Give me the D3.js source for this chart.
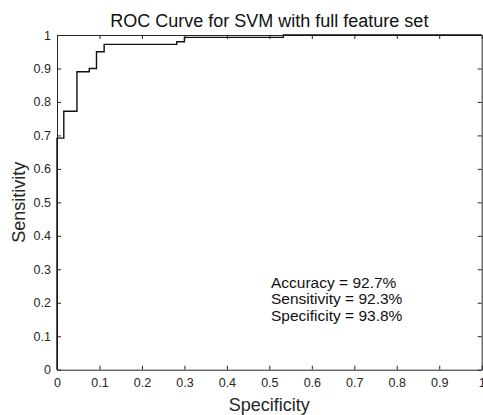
<!DOCTYPE html>
<html>
<head>
<meta charset="utf-8">
<script src="https://cdn.jsdelivr.net/npm/d3@7.9.0/dist/d3.min.js"></script>
<style>
  body { margin: 0; background: #fff; }
  svg { display: block; font-family: "Liberation Sans", Arial, sans-serif; }
  .tick text { fill: #262626; font-size: 12.5px; }
</style>
</head>
<body>
<svg id="chart" width="483" height="415"></svg>
<script>
// ROC curve corners (false positive rate, true positive rate)
const fpr = [0, 0, 0.016, 0.047, 0.076, 0.093, 0.111, 0.282, 0.3, 0.533, 1];
const tpr = [0, 0.692, 0.772, 0.89, 0.9, 0.95, 0.972, 0.98, 0.993, 1, 1];
const ticks = [0, 0.1, 0.2, 0.3, 0.4, 0.5, 0.6, 0.7, 0.8, 0.9, 1];
const notes = ['Accuracy = 92.7%', 'Sensitivity = 92.3%', 'Specificity = 93.8%'];

const svg = d3.select('#chart');
const m = { left: 57, right: 481.7, top: 35, bottom: 369.7 };
const axisColor = '#262626';

const x = d3.scaleLinear().domain([0, 1]).range([m.left, m.right]);
const y = d3.scaleLinear().domain([0, 1]).range([m.bottom, m.top]);
const fmt = (d) => (d === 0 || d === 1 ? String(d) : d.toFixed(1));

// bottom axis with labels, ticks pointing inward
const xAxis = svg.append('g')
  .attr('transform', `translate(0,${m.bottom})`)
  .call(d3.axisBottom(x).tickValues(ticks).tickFormat(fmt).tickSizeInner(-4).tickSizeOuter(0).tickPadding(8));
const yAxis = svg.append('g')
  .attr('transform', `translate(${m.left},0)`)
  .call(d3.axisLeft(y).tickValues(ticks).tickFormat(fmt).tickSizeInner(-4).tickSizeOuter(0).tickPadding(6));
// top and right box edges with ticks
const xTop = svg.append('g')
  .attr('transform', `translate(0,${m.top})`)
  .call(d3.axisTop(x).tickValues(ticks).tickFormat('').tickSizeInner(-4).tickSizeOuter(0));
const yRight = svg.append('g')
  .attr('transform', `translate(${m.right},0)`)
  .call(d3.axisRight(y).tickValues(ticks).tickFormat('').tickSizeInner(-4).tickSizeOuter(0));

[xAxis, yAxis, xTop, yRight].forEach((g) => {
  g.selectAll('.domain, .tick line').attr('stroke', axisColor).attr('stroke-width', 1);
});
xAxis.selectAll('.tick text').attr('dy', '0.71em');

// ROC line
const points = fpr.map((d, i) => [d, tpr[i]]);
const line = d3.line()
  .x((d) => x(d[0]))
  .y((d) => y(d[1]))
  .curve(d3.curveStepAfter);

svg.append('path')
  .datum(points)
  .attr('d', line)
  .attr('fill', 'none')
  .attr('stroke', '#111')
  .attr('stroke-width', 1.4);

// title and axis labels
svg.append('text')
  .attr('x', (m.left + m.right) / 2)
  .attr('y', 27)
  .attr('text-anchor', 'middle')
  .attr('font-size', 18)
  .attr('fill', '#111')
  .text('ROC Curve for SVM with full feature set');

svg.append('text')
  .attr('x', (m.left + m.right) / 2)
  .attr('y', 411)
  .attr('text-anchor', 'middle')
  .attr('font-size', 18)
  .attr('fill', axisColor)
  .text('Specificity');

svg.append('text')
  .attr('transform', `translate(25,${(m.top + m.bottom) / 2}) rotate(-90)`)
  .attr('text-anchor', 'middle')
  .attr('font-size', 18)
  .attr('fill', axisColor)
  .text('Sensitivity');

// accuracy notes
svg.selectAll('.note')
  .data(notes)
  .join('text')
  .attr('class', 'note')
  .attr('x', 271)
  .attr('y', (d, i) => 288 + i * 16.4)
  .attr('font-size', 15.5)
  .attr('fill', '#111')
  .text((d) => d);
</script>
</body>
</html>
